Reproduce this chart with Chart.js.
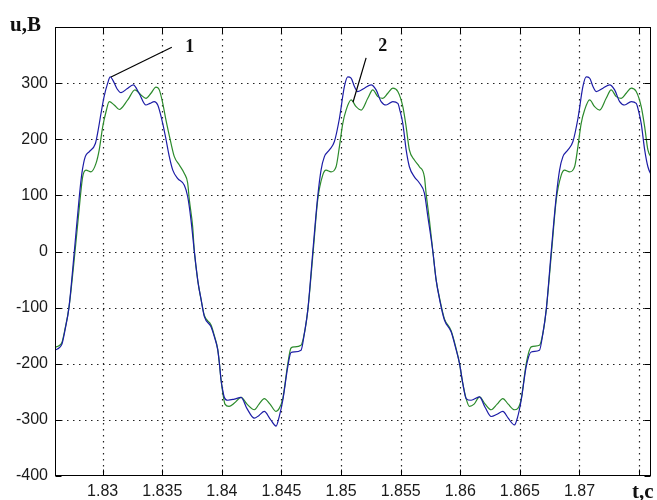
<!DOCTYPE html>
<html>
<head>
<meta charset="utf-8">
<script src="https://cdn.jsdelivr.net/npm/chart.js@4.4.1/dist/chart.umd.min.js"></script>
<style>
  html,body{margin:0;padding:0;background:#fff;}
  #c{display:block;}
</style>
</head>
<body>
<canvas id="c" width="657" height="500"></canvas>
<script>
// ---- data ----
const tBlue = [1.82608,1.82633,1.82658,1.82684,1.82717,1.82762,1.82804,1.82826,1.82854,1.82888,1.82938,1.82961,1.82986,1.83011,1.83042,1.83064,1.83086,1.83120,1.83154,1.83204,1.83257,1.83305,1.83363,1.83397,1.83433,1.83462,1.83481,1.83504,1.83531,1.83559,1.83588,1.83630,1.83685,1.83713,1.83741,1.83769,1.83800,1.83825,1.83853,1.83909,1.83937,1.83965,1.83979,1.83993,1.84007,1.84021,1.84049,1.84105,1.84161,1.84211,1.84272,1.84312,1.84356,1.84404,1.84455,1.84480,1.84511,1.84553,1.84580,1.84608,1.84664,1.84692,1.84721,1.84763,
  1.84804,1.84832,1.84860,1.84902,1.84944,1.84986,1.85028,1.85056,1.85084,1.85112,1.85140,1.85196,1.85252,1.85294,1.85336,1.85378,1.85434,1.85476,1.85495,1.85518,1.85546,1.85573,1.85615,1.85657,1.85699,1.85728,1.85770,1.85797,1.85827,1.85867,1.85923,1.85965,1.85993,1.86021,1.86049,1.86091,1.86161,1.86209,1.86259,1.86309,1.86357,1.86402,1.86455,1.86481,1.86511,1.86553,1.86595,1.86664,1.86693,1.86721,1.86763,
  1.86805,1.86833,1.86861,1.86903,1.86945,1.86987,1.87029,1.87056,1.87085,1.87113,1.87140,1.87197,1.87253,1.87295,1.87337,1.87379,1.87434,1.87476,1.87496,1.87518,1.87547,1.87574,1.87610];
const uBlue = [-175,-172,-165,-140,-100,0,98,140,169,178,192,215,246,275,300,311,305,290,283,290,297,282,261,264,267,261,248,228,200,169,145,130,118,98,56,0,-55,-85,-116,-134,-152,-175,-199,-229,-247,-260,-265,-263,-260,-280,-297,-292,-285,-298,-311,-295,-265,-205,-180,-179,-176,-146,-104,0,
  98,145,169,181,196,237,294,311,309,294,285,291,297,288,267,261,267,264,250,228,181,151,133,122,104,62,0,-50,-86,-122,-143,-175,-199,-235,-262,-265,-259,-278,-294,-290,-285,-297,-309,-295,-265,-205,-179,-176,-146,-104,0,
  98,145,169,181,196,237,294,311,309,294,285,291,297,288,267,261,267,264,250,228,181,151,133];

const tGreen = [1.82608,1.82633,1.82658,1.82684,1.82717,1.82768,1.82810,1.82832,1.82860,1.82902,1.82944,1.82971,1.83000,1.83028,1.83055,1.83097,1.83139,1.83210,1.83271,1.83321,1.83363,1.83405,1.83447,1.83475,1.83504,1.83531,1.83573,1.83601,1.83643,1.83685,1.83713,1.83727,1.83755,1.83769,1.83800,1.83825,1.83853,1.83909,1.83937,1.83965,1.83979,1.83993,1.84010,1.84026,1.84060,1.84105,1.84161,1.84211,1.84272,1.84312,1.84356,1.84404,1.84455,1.84480,1.84511,1.84553,1.84580,1.84608,1.84664,1.84692,1.84721,1.84766,
  1.84804,1.84846,1.84874,1.84916,1.84958,1.84986,1.85014,1.85042,1.85084,1.85126,1.85168,1.85224,1.85266,1.85308,1.85350,1.85392,1.85434,1.85476,1.85518,1.85546,1.85573,1.85615,1.85657,1.85699,1.85713,1.85741,1.85770,1.85797,1.85827,1.85867,1.85923,1.85965,1.85993,1.86021,1.86049,1.86077,1.86116,1.86161,1.86209,1.86259,1.86309,1.86357,1.86402,1.86455,1.86481,1.86511,1.86553,1.86595,1.86664,1.86693,1.86721,1.86766,
  1.86805,1.86847,1.86875,1.86917,1.86959,1.86987,1.87014,1.87043,1.87085,1.87127,1.87169,1.87224,1.87266,1.87308,1.87350,1.87392,1.87434,1.87476,1.87518,1.87547,1.87574,1.87610];
const uGreen = [-170,-168,-162,-138,-100,0,92,133,145,142,157,181,222,249,267,261,253,270,288,279,273,282,293,288,264,234,193,169,154,139,122,92,44,0,-55,-85,-114,-131,-150,-174,-199,-229,-255,-272,-276,-270,-260,-272,-282,-272,-262,-272,-285,-280,-262,-200,-172,-170,-167,-146,-104,0,
  92,136,145,142,151,187,228,252,270,258,252,273,288,276,273,282,291,285,258,222,181,163,151,133,104,56,0,-50,-84,-120,-141,-173,-199,-235,-262,-276,-272,-259,-272,-282,-272,-262,-272,-282,-280,-263,-200,-170,-167,-146,-104,0,
  92,136,145,142,151,187,228,252,270,258,252,273,288,276,273,282,291,285,258,222,181,165];

const xTicks = [1.83,1.835,1.84,1.845,1.85,1.855,1.86,1.865,1.87,1.875];
const xTickLabels = ['1.83','1.835','1.84','1.845','1.85','1.855','1.86','1.865','1.87',''];
const yTicks = [-400,-300,-200,-100,0,100,200,300,400];
const yTickLabels = ['-400','-300','-200','-100','0','100','200','300',''];

// callout lines (data coordinates) and their labels
const calloutLines = [[[1.8307,311],[1.8358,364]], [[1.8521,345],[1.8510,266]]];
const calloutLabels = ['1','2'];
const calloutLabelPos = [[1.8373,364],[1.8535,365]];
const yTitle = 'u,B';
const xTitle = 't,c';

const X_MIN = 1.826, X_MAX = 1.876, Y_MIN = -400, Y_MAX = 400;

const frame = {
  id:'frame',
  beforeDatasetsDraw(chart){
    const {ctx, chartArea:a, scales:{x,y}} = chart;
    ctx.save();
    ctx.strokeStyle = '#222';
    ctx.lineWidth = 1.2;
    ctx.setLineDash([1.5,4.5]);
    xTicks.forEach(v=>{
      const px = Math.round(x.getPixelForValue(v)) + 0.5;
      ctx.beginPath(); ctx.moveTo(px,a.top); ctx.lineTo(px,a.bottom); ctx.stroke();
    });
    yTicks.forEach(v=>{
      if (v===Y_MIN || v===Y_MAX) return;
      const py = Math.round(y.getPixelForValue(v)) + 0.5;
      ctx.beginPath(); ctx.moveTo(a.left,py); ctx.lineTo(a.right,py); ctx.stroke();
    });
    ctx.restore();
  },
  afterDatasetsDraw(chart){
    const {ctx, chartArea:a, scales:{x,y}} = chart;
    ctx.save();
    ctx.strokeStyle = '#000';
    ctx.lineWidth = 1;
    ctx.setLineDash([]);
    const L = Math.round(a.left)+0.5, R = Math.round(a.right)-0.5, T = Math.round(a.top)+0.5, B = Math.round(a.bottom)-0.5;
    ctx.strokeRect(L, T, R-L, B-T);
    const tl = 6;
    ctx.beginPath();
    xTicks.forEach(v=>{
      const px = Math.round(x.getPixelForValue(v)) + 0.5;
      ctx.moveTo(px,B); ctx.lineTo(px,B-tl);
      ctx.moveTo(px,T); ctx.lineTo(px,T+tl);
    });
    yTicks.forEach(v=>{
      const py = Math.round(y.getPixelForValue(v)) + 0.5;
      ctx.moveTo(L,py); ctx.lineTo(L+tl,py);
      ctx.moveTo(R,py); ctx.lineTo(R-tl,py);
    });
    ctx.stroke();
    // callouts
    ctx.lineWidth = 1.2;
    calloutLines.forEach(seg=>{
      ctx.beginPath();
      ctx.moveTo(x.getPixelForValue(seg[0][0]), y.getPixelForValue(seg[0][1]));
      ctx.lineTo(x.getPixelForValue(seg[1][0]), y.getPixelForValue(seg[1][1]));
      ctx.stroke();
    });
    ctx.fillStyle = '#111';
    ctx.font = "bold 18px 'Liberation Serif', 'DejaVu Serif', serif";
    ctx.textAlign = 'center';
    ctx.textBaseline = 'middle';
    calloutLabels.forEach((s,i)=>{
      ctx.fillText(s, x.getPixelForValue(calloutLabelPos[i][0]), y.getPixelForValue(calloutLabelPos[i][1]));
    });
    // axis titles
    ctx.font = "bold 21px 'Liberation Serif', 'DejaVu Serif', serif";
    ctx.textAlign = 'left';
    ctx.textBaseline = 'alphabetic';
    ctx.fillText(yTitle, 10, 31);
    ctx.fillText(xTitle, 632, 498);
    ctx.restore();
  }
};

new Chart(document.getElementById('c'), {
  type:'line',
  data:{
    datasets:[
      {label:'1', data:tBlue.map((t,i)=>({x:t,y:uBlue[i]})), borderColor:'#1c1ca6', borderWidth:1.2, pointRadius:0, cubicInterpolationMode:'monotone', fill:false},
      {label:'2', data:tGreen.map((t,i)=>({x:t,y:uGreen[i]})), borderColor:'#2b8a2b', borderWidth:1.2, pointRadius:0, cubicInterpolationMode:'monotone', fill:false}
    ]
  },
  options:{
    responsive:false,
    animation:false,
    events:[],
    layout:{padding:{left:0, right:6, top:27, bottom:0}},
    plugins:{legend:{display:false}, tooltip:{enabled:false}},
    scales:{
      x:{
        type:'linear', min:X_MIN, max:X_MAX,
        grid:{display:false, drawTicks:false},
        border:{display:false},
        afterBuildTicks:(s)=>{ s.ticks = xTicks.map(v=>({value:v})); },
        afterFit:(s)=>{ s.height = 24; },
        ticks:{
          autoSkip:false, maxRotation:0, minRotation:0, padding:6,
          color:'#1a1a1a',
          font:{family:"'Liberation Sans', Arial, sans-serif", size:16},
          callback:(v,i)=> xTickLabels[i]
        }
      },
      y:{
        type:'linear', min:Y_MIN, max:Y_MAX,
        grid:{display:false, drawTicks:false},
        border:{display:false},
        afterBuildTicks:(s)=>{ s.ticks = yTicks.map(v=>({value:v})); },
        afterFit:(s)=>{ s.width = 55; },
        ticks:{
          padding:7, color:'#1a1a1a',
          font:{family:"'Liberation Sans', Arial, sans-serif", size:16},
          callback:(v,i)=> yTickLabels[i]
        }
      }
    }
  },
  plugins:[frame]
});
</script>
</body>
</html>
